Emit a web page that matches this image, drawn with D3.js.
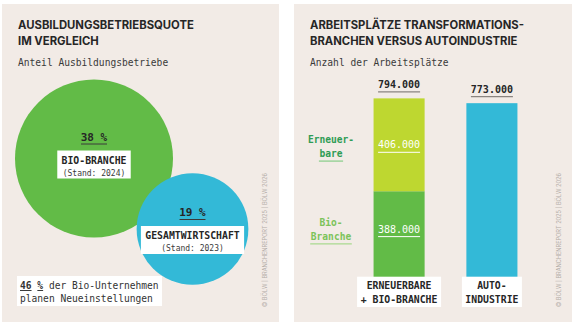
<!DOCTYPE html>
<html>
<head>
<meta charset="utf-8">
<script src="https://cdn.jsdelivr.net/npm/d3@7"></script>
<style>
  html, body { margin: 0; padding: 0; background: #ffffff; }
  svg { display: block; }
  .title { font-family: Inter, Roboto, "Liberation Sans", sans-serif; font-weight: 700; fill: #262626; }
  .mono { font-family: "DejaVu Sans Mono", "Liberation Mono", monospace; }
</style>
</head>
<body>
<script>
// Left panel: share of training companies
const shareNames = ["BIO-BRANCHE", "GESAMTWIRTSCHAFT"];
const shareStand = ["(Stand: 2024)", "(Stand: 2023)"];
const shareValues = [38, 19];
const shareColors = ["#62bb47", "#33b9d7"];
const hiringShare = 46;

// Right panel: jobs, transformation sectors vs. car industry
const barCategories = [["ERNEUERBARE", "+ BIO-BRANCHE"], ["AUTO-", "INDUSTRIE"]];
const segmentNames = [["Erneuer-", "bare"], ["Bio-", "Branche"]];
const renewableJobs = [406, 0];   // thousand
const bioJobs = [388, 0];         // thousand
const autoJobs = [0, 773];        // thousand
const barTotals = [794, 773];     // thousand

const W = 576, H = 326;
const bg = "#f2ebe6";
const ink = "#262626";
const fmt = v => d3.format(",")(v * 1000).replace(/,/g, ".");

const svg = d3.select("body").append("svg").attr("width", W).attr("height", H);
svg.append("rect").attr("width", W).attr("height", H).attr("fill", "#ffffff");

// panel backgrounds
svg.append("rect").attr("x", 2).attr("y", 4).attr("width", 277).attr("height", 318).attr("fill", bg);
svg.append("rect").attr("x", 294).attr("y", 4).attr("width", 278).attr("height", 318).attr("fill", bg);

// headline block; the headline is sized so its first line spans `width`
function heading(x, lines, width, sub) {
  const g = svg.append("g");
  const t = lines.map((s, i) => g.append("text").attr("class", "title")
    .attr("x", x).attr("y", 29 + i * 15.5).attr("font-size", 10).text(s));
  const w = t[0].node().getComputedTextLength();
  const fs = Math.min(11.5, 10 * width / w);
  t.forEach(n => n.attr("font-size", fs));
  g.append("text").attr("class", "mono").attr("x", x).attr("y", 66)
    .attr("font-size", 9.6).attr("fill", "#3a3a3a").text(sub);
}
heading(18, ["AUSBILDUNGSBETRIEBSQUOTE", "IM VERGLEICH"], 176, "Anteil Ausbildungsbetriebe");
heading(310, ["ARBEITSPLÄTZE TRANSFORMATIONS-", "BRANCHEN VERSUS AUTOINDUSTRIE"], 214, "Anzahl der Arbeitsplätze");

// credits
[267, 561].forEach(x => {
  svg.append("text").attr("transform", `translate(${x},240) rotate(-90)`)
    .attr("text-anchor", "middle").attr("font-family", "Inter, Roboto, sans-serif")
    .attr("font-size", 5.6).attr("fill", "#b3aca7")
    .text("© BÖLW | BRANCHENREPORT 2025 | BÖLW 2026");
});

// ---------- bubbles (area proportional) ----------
const r = d3.scaleSqrt().domain([0, 38]).range([0, 79]);
const centers = [[94, 158.5], [192.5, 229]];
const bubbles = svg.append("g");
shareValues.forEach((v, i) => {
  const [cx, cy] = centers[i];
  bubbles.append("circle").attr("cx", cx).attr("cy", cy).attr("r", r(v)).attr("fill", shareColors[i]);
});
shareValues.forEach((v, i) => {
  const [cx, cy] = centers[i];
  const top = i === 0 ? cy - 18 : cy - 13;
  const g = bubbles.append("g").attr("transform", `translate(${cx},${top})`);
  g.append("text").attr("class", "mono").attr("text-anchor", "middle").attr("y", 0)
    .attr("font-size", 11).attr("font-weight", 700).attr("fill", ink).text(v + " %");
  g.append("line").attr("x1", -13).attr("x2", 13).attr("y1", 3.5).attr("y2", 3.5)
    .attr("stroke", "#3a3a3a").attr("stroke-width", 1);
  const bw = shareNames[i].length * 5.95 + 8;
  g.append("rect").attr("x", -bw / 2).attr("y", 10).attr("width", bw).attr("height", 28).attr("fill", "#ffffff");
  g.append("text").attr("class", "mono").attr("text-anchor", "middle").attr("y", 23)
    .attr("font-size", 9.8).attr("font-weight", 700).attr("fill", ink).text(shareNames[i]);
  g.append("text").attr("class", "mono").attr("text-anchor", "middle").attr("y", 35)
    .attr("font-size", 8).attr("fill", "#3a3a3a").text(shareStand[i]);
});

// hiring note
const note = svg.append("g");
note.append("rect").attr("x", 17).attr("y", 276).attr("width", 145).attr("height", 30).attr("fill", "#ffffff");
const nt = note.append("text").attr("class", "mono").attr("x", 20).attr("y", 289)
  .attr("font-size", 9.6).attr("fill", "#333");
nt.append("tspan").attr("font-weight", 700).attr("text-decoration", "underline").text(hiringShare);
nt.append("tspan").text(" ");
nt.append("tspan").attr("font-weight", 700).attr("text-decoration", "underline").text("%");
nt.append("tspan").text(" der Bio-Unternehmen");
note.append("text").attr("class", "mono").attr("x", 20).attr("y", 302)
  .attr("font-size", 9.6).attr("fill", "#333").text("planen Neueinstellungen");

// ---------- stacked bars ----------
const x = d3.scaleBand().domain([0, 1]).range([355, 536]).paddingInner(0.45).paddingOuter(0.2);
const y = d3.scaleLinear().domain([0, 800]).range([280, 97]);

const rows = barTotals.map((t, i) => ({ i, bio: bioJobs[i], ren: renewableJobs[i], auto: autoJobs[i] }));
const stack = d3.stack().keys(["bio", "ren", "auto"])(rows);
const segColor = { bio: "#62bb47", ren: "#bed730", auto: "#33b9d7" };

const bars = svg.append("g");
stack.forEach(layer => {
  bars.selectAll(null).data(layer.filter(d => d[1] > d[0])).join("rect")
    .attr("x", d => x(d.data.i)).attr("width", x.bandwidth())
    .attr("y", d => y(d[1])).attr("height", d => y(d[0]) - y(d[1]))
    .attr("fill", segColor[layer.key]);
});

// totals above bars
barTotals.forEach((t, i) => {
  const cx = x(i) + x.bandwidth() / 2;
  bars.append("text").attr("class", "mono").attr("text-anchor", "middle")
    .attr("x", cx).attr("y", y(t) - 10.5).attr("font-size", 10).attr("font-weight", 700)
    .attr("fill", ink).text(fmt(t));
  bars.append("line").attr("x1", cx - 21).attr("x2", cx + 21)
    .attr("y1", y(t) - 6.5).attr("y2", y(t) - 6.5).attr("stroke", "#8a8480").attr("stroke-width", 1.2);
});

// values inside the stacked segments
const cx0 = x(0) + x.bandwidth() / 2;
[[renewableJobs[0], bioJobs[0] + renewableJobs[0] / 2, 3.5], [bioJobs[0], bioJobs[0] / 2, -3]].forEach(([v, mid, dy]) => {
  const yy = y(mid) + dy;
  bars.append("text").attr("class", "mono").attr("text-anchor", "middle")
    .attr("x", cx0).attr("y", yy).attr("font-size", 10).attr("fill", "#ffffff").text(fmt(v));
  bars.append("line").attr("x1", cx0 - 21).attr("x2", cx0 + 21).attr("y1", yy + 4).attr("y2", yy + 4)
    .attr("stroke", "#ffffff").attr("stroke-width", 1);
});

// segment names left of the stacked bar
const segStyles = [
  { fill: "#2f9c55", line: "#8fcf8f", y0: 143.3 },
  { fill: "#7cc35a", line: "#a9da8f", y0: 226 }
];
segmentNames.forEach((lines, k) => {
  const s = segStyles[k];
  lines.forEach((t, j) => {
    svg.append("text").attr("class", "mono").attr("text-anchor", "middle")
      .attr("x", 331).attr("y", s.y0 + j * 13.8).attr("font-size", 9.6).attr("font-weight", 700)
      .attr("fill", s.fill).text(t);
  });
  const last = lines[lines.length - 1];
  const hw = last.length * 5.8 / 2 + 0.5;
  const ly = s.y0 + (lines.length - 1) * 13.8 + 4;
  svg.append("line").attr("x1", 331 - hw).attr("x2", 331 + hw).attr("y1", ly).attr("y2", ly)
    .attr("stroke", s.line).attr("stroke-width", 1.3);
});

// category boxes below the bars
barCategories.forEach((lines, i) => {
  const cx = x(i) + x.bandwidth() / 2;
  const bw = d3.max(lines, l => l.length) * 6 + 6;
  svg.append("rect").attr("x", cx - bw / 2).attr("y", 276.7).attr("width", bw).attr("height", 30.3).attr("fill", "#ffffff");
  lines.forEach((t, j) => {
    svg.append("text").attr("class", "mono").attr("text-anchor", "middle")
      .attr("x", cx).attr("y", 289.3 + j * 13.4).attr("font-size", 9.8).attr("font-weight", 700)
      .attr("fill", ink).text(t);
  });
});
</script>
</body>
</html>
